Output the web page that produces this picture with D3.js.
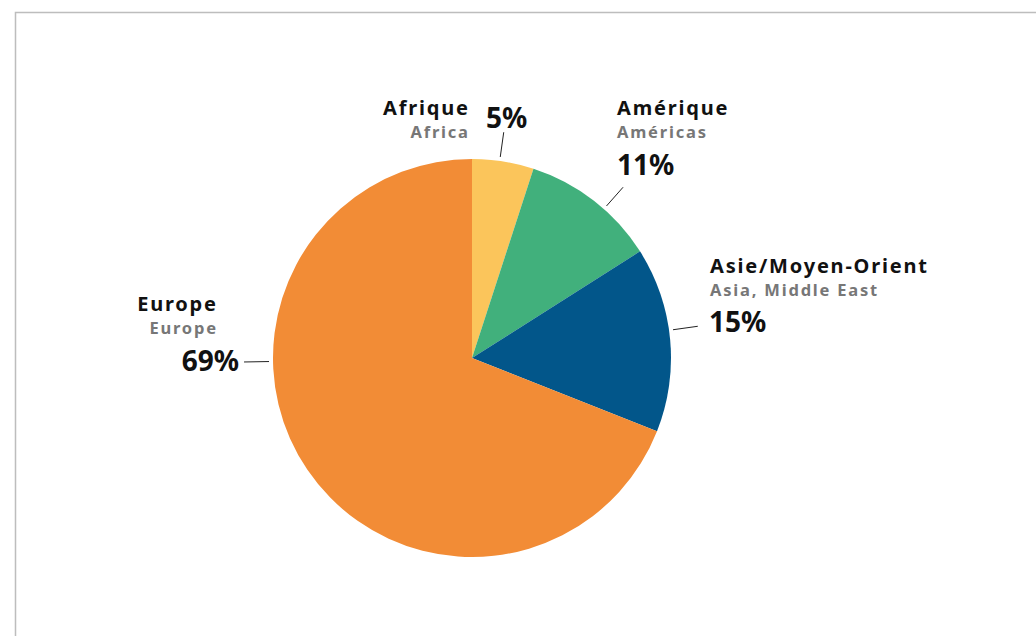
<!DOCTYPE html>
<html>
<head>
<meta charset="utf-8">
<script src="https://cdn.jsdelivr.net/npm/d3@7"></script>
<style>
  html, body { margin: 0; padding: 0; background: #fff; }
  svg { display: block; }
  text { font-family: "Noto Sans", "DejaVu Sans", sans-serif; font-weight: 700; }
</style>
</head>
<body>
<svg id="chart" width="1036" height="636"></svg>
<script>
// Regions, their shares (%) and bilingual labels
const regions = ["Afrique", "Amérique", "Asie/Moyen-Orient", "Europe"];
const regionsEn = ["Africa", "Américas", "Asia, Middle East", "Europe"];
const shares = [5, 11, 15, 69];
const colors = ["#FBC55B", "#41B07C", "#02568A", "#F28C36"];

// Label placement: leader-line angle (deg, clockwise from 12 o'clock),
// and anchors for the name block and the percentage
const labelLayout = {
  "Afrique":           { angle: 8,    titleAt: [468, 115], anchor: "end",   pctAt: [486, 128], pctAnchor: "start" },
  "Amérique":          { angle: 41.5, titleAt: [617, 115], anchor: "start", pctAt: [617, 175], pctAnchor: "start" },
  "Asie/Moyen-Orient": { angle: 82,   titleAt: [710, 273], anchor: "start", pctAt: [709, 332], pctAnchor: "start" },
  "Europe":            { angle: 269,  titleAt: [216, 311], anchor: "end",   pctAt: [239, 371], pctAnchor: "end" }
};

const svg = d3.select("#chart");
const cx = 472, cy = 358, radius = 199;
const spacing = 1.8;

// Frame
svg.append("rect")
  .attr("x", 15.5).attr("y", 12.5)
  .attr("width", 1040).attr("height", 640)
  .attr("fill", "none")
  .attr("stroke", "#bdbdbd")
  .attr("stroke-width", 1.5);

const data = regions.map((r, i) => ({ region: r, en: regionsEn[i], value: shares[i], color: colors[i] }));

const pie = d3.pie().value(d => d.value).sort(null);
const arc = d3.arc().innerRadius(0).outerRadius(radius);

const g = svg.append("g").attr("transform", `translate(${cx},${cy})`);

g.selectAll("path.slice")
  .data(pie(data))
  .join("path")
  .attr("class", "slice")
  .attr("d", arc)
  .attr("fill", d => d.data.color);

// Leader lines (radial)
const toXY = (deg, r) => {
  const a = deg * Math.PI / 180;
  return [Math.sin(a) * r, -Math.cos(a) * r];
};
g.selectAll("line.leader")
  .data(data)
  .join("line")
  .attr("class", "leader")
  .each(function(d) {
    const L = labelLayout[d.region];
    const p0 = toXY(L.angle, radius + 4);
    const p1 = toXY(L.angle, radius + 29);
    d3.select(this)
      .attr("x1", p0[0]).attr("y1", p0[1])
      .attr("x2", p1[0]).attr("y2", p1[1]);
  })
  .attr("stroke", "#222")
  .attr("stroke-width", 1);

// Text labels; end-anchored text is nudged so trailing letter-spacing doesn't offset it
const labels = svg.selectAll("g.label")
  .data(data)
  .join("g")
  .attr("class", "label");

const tx = d => {
  const L = labelLayout[d.region];
  return L.titleAt[0] + (L.anchor === "end" ? spacing : 0);
};

labels.append("text")
  .attr("x", tx)
  .attr("y", d => labelLayout[d.region].titleAt[1])
  .attr("text-anchor", d => labelLayout[d.region].anchor)
  .attr("font-size", 20)
  .attr("letter-spacing", spacing)
  .attr("fill", "#111")
  .text(d => d.region);

labels.append("text")
  .attr("x", tx)
  .attr("y", d => labelLayout[d.region].titleAt[1] + 23)
  .attr("text-anchor", d => labelLayout[d.region].anchor)
  .attr("font-size", 16.5)
  .attr("letter-spacing", spacing)
  .attr("fill", "#777")
  .text(d => d.en);

labels.append("text")
  .attr("x", d => labelLayout[d.region].pctAt[0])
  .attr("y", d => labelLayout[d.region].pctAt[1])
  .attr("text-anchor", d => labelLayout[d.region].pctAnchor)
  .attr("font-size", 28)
  .attr("fill", "#111")
  .text(d => d.value + "%");
</script>
</body>
</html>
